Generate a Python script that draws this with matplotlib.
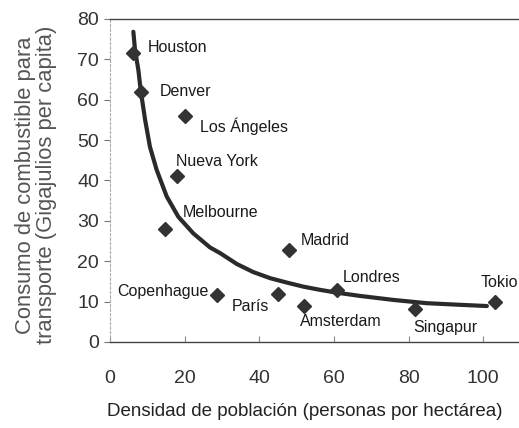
import matplotlib
matplotlib.use("Agg")
import matplotlib.pyplot as plt

# ciudades: densidad (personas/ha) y consumo (GJ per capita)
ciudades = ["Houston", "Denver", "Los Ángeles", "Nueva York", "Melbourne",
            "Copenhague", "París", "Amsterdam", "Madrid", "Londres",
            "Singapur", "Tokio"]
densidad = [6.2, 8.3, 20.0, 18.0, 14.7, 28.7, 45.0, 52.0, 48.0, 60.8, 81.8, 103.2]
consumo = [71.5, 62.0, 56.0, 41.0, 28.0, 11.6, 11.9, 9.0, 22.8, 12.9, 8.2, 9.8]

# curva de tendencia
curva_x = [6.25, 6.7, 7.6, 8.2, 9.4, 10.7, 12.5, 15.2, 18.3, 22.3, 26.8, 29.5,
           34.0, 38.4, 42.9, 47.4, 51.8, 56.3, 60.8, 67.0, 76.0, 84.9, 93.8, 101.0]
curva_y = [76.8, 72.3, 67.3, 62.4, 55.0, 48.3, 42.6, 36.0, 31.0, 26.9, 23.4, 22.0,
           19.3, 17.3, 15.8, 14.7, 13.7, 12.9, 12.2, 11.4, 10.4, 9.6, 9.2, 8.9]

# posición de las etiquetas (x, y, alineación)
etiquetas = {
    "Houston": (10.2, 72.8, "left"),
    "Denver": (13.4, 62.0, "left"),
    "Los Ángeles": (24.1, 53.5, "left"),
    "Nueva York": (17.7, 44.6, "left"),
    "Melbourne": (19.6, 32.0, "left"),
    "Copenhague": (26.3, 12.4, "right"),
    "París": (32.7, 8.7, "left"),
    "Amsterdam": (51.0, 5.0, "left"),
    "Madrid": (51.2, 25.0, "left"),
    "Londres": (62.5, 16.0, "left"),
    "Singapur": (81.2, 3.7, "left"),
    "Tokio": (99.2, 14.6, "left"),
}

plt.rcParams["font.family"] = ["Liberation Sans", "DejaVu Sans"]

fig = plt.figure(figsize=(5.19, 4.28), dpi=100)
ax = fig.add_axes([0.212, 0.201, 0.788, 0.755])

ax.plot(curva_x, curva_y, color="#2a2a2a", lw=3.0, solid_capstyle="round",
        solid_joinstyle="round", zorder=2)
ax.plot(densidad, consumo, "D", color="#333333", markersize=7.5, zorder=3)

for c in ciudades:
    x, y, ha = etiquetas[c]
    ax.text(x, y, c, ha=ha, va="center", fontsize=11.5, color="#1a1a1a")

ax.set_xlim(0, 109.6)
ax.set_ylim(0, 80)
ax.set_xticks([0, 20, 40, 60, 80, 100])
ax.set_yticks(range(0, 81, 10))

ax.spines["right"].set_visible(False)
ax.spines["left"].set_linestyle((0, (2, 2)))
ax.spines["left"].set_color("#aaaaaa")
ax.spines["left"].set_linewidth(0.8)
ax.spines["top"].set_color("#444444")
ax.spines["bottom"].set_color("#444444")
ax.spines["top"].set_linewidth(1.0)
ax.spines["bottom"].set_linewidth(1.0)

ax.tick_params(axis="x", direction="in", length=4, color="#888888", pad=20,
               labelsize=14, labelcolor="#333333")
ax.tick_params(axis="y", direction="out", length=4, color="#777777", pad=4,
               labelsize=14, labelcolor="#333333")

fig.text(305 / 519, 1 - 411 / 428, "Densidad de población (personas por hectárea)",
         ha="center", va="center", fontsize=13.5, color="#222222")
fig.text(36 / 519, 1 - 185 / 428,
         "Consumo de combustible para\ntransporte (Gigajulios per capita)",
         ha="center", va="center", rotation=90, fontsize=15.8, color="#555555",
         linespacing=1.05)

fig.savefig("out.png", dpi=100)
